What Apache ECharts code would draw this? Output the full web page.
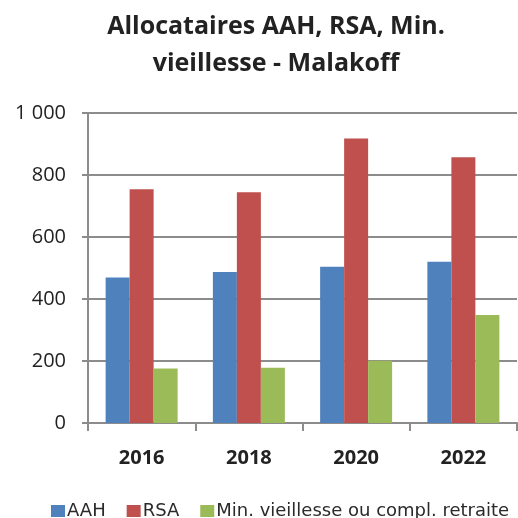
<!DOCTYPE html>
<html>
<head>
<meta charset="utf-8">
<script src="https://cdn.jsdelivr.net/npm/echarts@6/dist/echarts.min.js"></script>
<style>
html, body { margin: 0; padding: 0; background: #fff; }
#chart { width: 518px; height: 518px; }
</style>
</head>
<body>
<div id="chart"></div>
<script>
// donnees
var years = ['2016', '2018', '2020', '2022'];
var aah = [469, 487, 504, 520];
var rsa = [754, 744, 918, 857];
var minVieillesse = [176, 178, 201, 348];
var yTicks = [0, 200, 400, 600, 800, 1000];

var chart = echarts.init(document.getElementById('chart'));

var gridColor = '#8c8c8c';

var option = {
    animation: false,
    backgroundColor: '#fff',
    title: {
        text: 'Allocataires AAH, RSA, Min.\nvieillesse - Malakoff',
        left: 271,
        top: 3,
        textAlign: 'center',
        textStyle: {
            fontFamily: 'Open Sans',
            fontWeight: 'bold',
            fontSize: 25,
            lineHeight: 37,
            color: '#222'
        }
    },
    legend: {
        top: 497,
        left: 46,
        itemWidth: 14,
        itemHeight: 12,
        itemGap: 21,
        icon: 'rect',
        textStyle: { fontFamily: 'DejaVu Sans', fontSize: 18, color: '#2a2a2a', padding: [0, 0, 0, -3] },
        data: ['AAH', 'RSA', 'Min. vieillesse ou compl. retraite']
    },
    grid: { left: 88, right: 1, top: 113, bottom: 95 },
    xAxis: {
        type: 'category',
        data: years,
        axisLine: { lineStyle: { color: gridColor, width: 2 } },
        axisTick: { show: true, length: 8, lineStyle: { color: gridColor, width: 2 } },
        axisLabel: {
            margin: 25,
            fontFamily: 'Open Sans',
            fontWeight: 'bold',
            fontSize: 20,
            color: '#222'
        }
    },
    yAxis: {
        type: 'value',
        min: 0,
        max: 1000,
        interval: 200,
        axisLine: { show: true, lineStyle: { color: gridColor, width: 2 } },
        axisTick: { show: true, length: 6, lineStyle: { color: gridColor, width: 2 } },
        splitLine: { lineStyle: { color: gridColor, width: 2 } },
        axisLabel: {
            margin: 22,
            fontFamily: 'Open Sans',
            fontSize: 20,
            color: '#222',
            formatter: function (v) {
                if (yTicks.indexOf(v) < 0) return '';
                return v >= 1000 ? '1 000' : String(v);
            }
        }
    },
    series: [
        { name: 'AAH', type: 'bar', data: aah, barWidth: 24, barGap: '0%', itemStyle: { color: '#4F81BD' } },
        { name: 'RSA', type: 'bar', data: rsa, barWidth: 24, barGap: '0%', itemStyle: { color: '#C0504D' } },
        { name: 'Min. vieillesse ou compl. retraite', type: 'bar', data: minVieillesse, barWidth: 24, barGap: '0%', itemStyle: { color: '#9BBB59' } }
    ]
};

chart.setOption(option);
</script>
</body>
</html>
